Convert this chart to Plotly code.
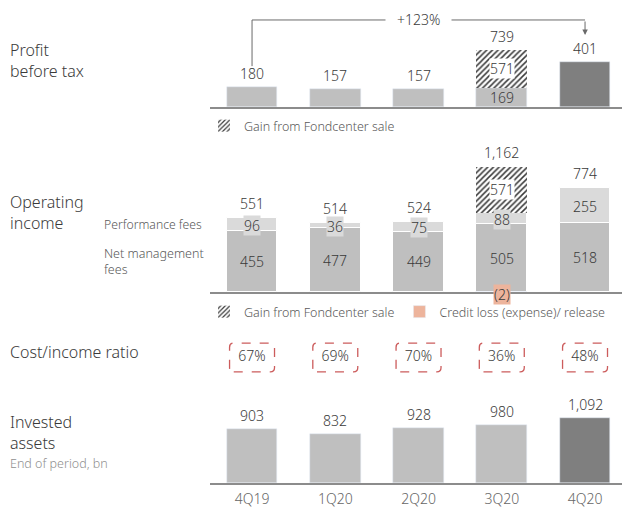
import plotly.graph_objects as go

quarters = ["4Q19", "1Q20", "2Q20", "3Q20", "4Q20"]

# profit before tax, USD m
pbt_underlying = [180, 157, 157, 169, 401]
pbt_gain = [0, 0, 0, 571, 0]
pbt_total = [180, 157, 157, 739, 401]

# operating income, USD m
net_mgmt_fees = [455, 477, 449, 505, 518]
perf_fees = [96, 36, 75, 88, 255]
oi_gain = [0, 0, 0, 571, 0]
credit_loss = [0, 0, 0, -2, 0]
oi_total = [551, 514, 524, 1162, 774]

cost_income = [67, 69, 70, 36, 48]            # %
invested_assets = [903, 832, 928, 980, 1092]  # USD bn

# the Fondcenter gain is drawn on a broken scale
BREAK = 0.6

W, H = 622, 509
FONT = "Noto Sans"
WEIGHT = 300
TXT = "#3a3a3a"
SUB = "#595959"
GREY = "#bfbfbf"
LIGHT = "#dadada"
DARK = "#7f7f7f"
SALMON = "#edb49c"
BAR_W = 0.61
VAL = 14

xs = list(range(len(quarters)))
hi_colors = [GREY] * (len(xs) - 1) + [DARK]


def py(p):
    return 1 - p / H


def px(p):
    return p / W


def panel(bottom, top, per_px):
    return dict(domain=[py(bottom), py(top)], range=[0, (bottom - top) / per_px])


def fnt(size, color=TXT):
    return dict(size=size, color=color, family=FONT, weight=WEIGHT)


hatch = dict(shape="/", fgcolor="#3a3a3a", fgopacity=1, bgcolor="white", size=4, solidity=0.38)

fig = go.Figure()

# ---- profit before tax
pbt_gain_shown = [g * BREAK if g else None for g in pbt_gain]
fig.add_trace(go.Bar(x=xs, y=pbt_underlying, marker_color=hi_colors, width=BAR_W,
                     xaxis="x", yaxis="y", showlegend=False))
fig.add_trace(go.Bar(x=xs, y=pbt_gain_shown, width=BAR_W, name="Gain from Fondcenter sale",
                     marker=dict(color="white", pattern=hatch, line_width=0),
                     xaxis="x", yaxis="y", legend="legend"))

# ---- operating income
oi_gain_shown = [g * BREAK if g else None for g in oi_gain]
fig.add_trace(go.Bar(x=xs, y=net_mgmt_fees, marker=dict(color=GREY, line=dict(color="white", width=1)),
                     width=BAR_W, xaxis="x2", yaxis="y2", showlegend=False))
fig.add_trace(go.Bar(x=xs, y=perf_fees, marker=dict(color=LIGHT, line=dict(color="white", width=1)),
                     width=BAR_W, xaxis="x2", yaxis="y2", showlegend=False))
fig.add_trace(go.Bar(x=xs, y=oi_gain_shown, width=BAR_W, name="Gain from Fondcenter sale",
                     marker=dict(color="white", pattern=hatch, line_width=0),
                     xaxis="x2", yaxis="y2", legend="legend2"))
fig.add_trace(go.Bar(x=xs, y=[c if c else None for c in credit_loss], width=BAR_W,
                     name="Credit loss (expense)/ release", marker_color=SALMON,
                     xaxis="x2", yaxis="y2", legend="legend2"))

# ---- cost / income ratio
fig.add_trace(go.Scatter(x=xs, y=[0.5] * len(xs), mode="text", text=[f"{v}%" for v in cost_income],
                         textfont=fnt(VAL), textposition="middle center",
                         xaxis="x3", yaxis="y3", showlegend=False, hoverinfo="skip"))

# ---- invested assets
fig.add_trace(go.Bar(x=xs, y=invested_assets, marker_color=hi_colors, width=BAR_W,
                     xaxis="x4", yaxis="y4", showlegend=False))

ann = []


def label(x, y, text, xa, ya, anchor="middle", shift=0, bg=None, size=VAL):
    ann.append(dict(x=x, y=y, xref=xa, yref=ya, text=text, showarrow=False, yanchor=anchor,
                    yshift=shift, bgcolor=bg, borderpad=0, font=fnt(size)))


for i in xs:
    # profit
    g = pbt_gain_shown[i] or 0
    label(i, pbt_underlying[i] + g, f"{pbt_total[i]:,}", "x", "y", "bottom", 3)
    if g:
        label(i, pbt_underlying[i] / 2, f"{pbt_underlying[i]:,}", "x", "y")
        label(i, pbt_underlying[i] + g / 2, f"{pbt_gain[i]:,}", "x", "y", bg="white")
    # operating income
    g = oi_gain_shown[i] or 0
    top = net_mgmt_fees[i] + perf_fees[i] + g
    label(i, top, f"{oi_total[i]:,}", "x2", "y2", "bottom", 4)
    label(i, net_mgmt_fees[i] / 2, f"{net_mgmt_fees[i]:,}", "x2", "y2")
    label(i, net_mgmt_fees[i] + perf_fees[i] / 2, f"{perf_fees[i]:,}", "x2", "y2", shift=-1, bg=LIGHT)
    if g:
        label(i, net_mgmt_fees[i] + perf_fees[i] + g / 2, f"{oi_gain[i]:,}", "x2", "y2", bg="white")
    if credit_loss[i]:
        label(i, 0, f"({abs(credit_loss[i])})", "x2", "y2", shift=-2, bg=SALMON)
    # invested assets
    label(i, invested_assets[i], f"{invested_assets[i]:,}", "x4", "y4", "bottom", 3)

# growth bracket 4Q19 -> 4Q20
growth = round((pbt_total[-1] / pbt_total[0] - 1) * 100)
BR_Y, BR_LO, BR_TIP = 777, 365, 643
ann.append(dict(x=xs[-1], y=BR_TIP, ax=xs[-1], ay=BR_Y, axref="x", ayref="y", xref="x", yref="y",
                text="", showarrow=True, arrowhead=2, arrowsize=1.1, arrowwidth=1, arrowcolor="#6a6a6a"))
ann.append(dict(x=2, y=BR_Y, xref="x", yref="y", text=f"\u00a0\u00a0\u00a0+{growth}%\u00a0\u00a0\u00a0",
                showarrow=False, bgcolor="white", borderpad=0, font=fnt(VAL)))


# row titles
def side(x, y, text, size=16, color=TXT):
    ann.append(dict(x=px(x), y=py(y), xref="paper", yref="paper", text=text, showarrow=False,
                    xanchor="left", yanchor="middle", align="left", font=fnt(size, color)))


side(8, 61, "Profit<br>before tax")
side(8, 212, "Operating<br>income")
side(102, 225, "Performance fees", 12.2, SUB)
side(102, 261, "Net management<br>fees", 12.5, SUB)
side(8, 352, "Cost/income ratio")
side(8, 432, "Invested<br>assets")
side(8, 463, "End of period, bn", 12.5, "#8f8f8f")

shapes = [dict(type="path", xref="x", yref="y", path=f"M 0,{BR_LO} L 0,{BR_Y} L {xs[-1]},{BR_Y}",
               line=dict(color="#6a6a6a", width=1))]

# dashed rounded boxes round the ratios
hx, y0, y1, rx, ry = 0.27, 0.18, 0.82, 0.05, 0.09
for i in xs:
    a, b = i - hx, i + hx
    p = (f"M {a + rx},{y0} L {b - rx},{y0} Q {b},{y0} {b},{y0 + ry} L {b},{y1 - ry} "
         f"Q {b},{y1} {b - rx},{y1} L {a + rx},{y1} Q {a},{y1} {a},{y1 - ry} "
         f"L {a},{y0 + ry} Q {a},{y0} {a + rx},{y0} Z")
    shapes.append(dict(type="path", xref="x3", yref="y3", path=p,
                       line=dict(color="#cc5c5c", width=1.3, dash="dash")))

xbase = dict(domain=[px(210), 1], range=[-0.505, 4.444], showgrid=False, zeroline=False,
             ticks="", linecolor="#8c8c8c", linewidth=1.5, fixedrange=True)
ybase = dict(visible=False, fixedrange=True)

fig.update_layout(
    width=W, height=H, margin=dict(l=0, r=0, t=0, b=0),
    paper_bgcolor="white", plot_bgcolor="white", barmode="relative", bargap=0,
    font=dict(family=FONT, color=TXT),
    xaxis=dict(xbase, anchor="y", showline=True, showticklabels=False),
    xaxis2=dict(xbase, anchor="y2", showline=True, showticklabels=False),
    xaxis3=dict(xbase, anchor="y3", showline=False, showticklabels=False),
    xaxis4=dict(xbase, anchor="y4", showline=True, tickvals=xs, ticktext=quarters,
                tickfont=fnt(14, "#666666"), ticklabelstandoff=2),
    yaxis=dict(ybase, anchor="x", **panel(107, 10, 0.112)),
    yaxis2=dict(ybase, anchor="x2", **panel(292, 145, 0.134)),
    yaxis3=dict(ybase, anchor="x3", domain=[py(380), py(335)], range=[0, 1]),
    yaxis4=dict(ybase, anchor="x4", **panel(483, 395, 0.0595)),
    legend=dict(x=px(204), y=py(126), xanchor="left", yanchor="middle", orientation="h",
                bgcolor="rgba(0,0,0,0)", font=fnt(12.5, SUB)),
    legend2=dict(x=px(204), y=py(312), xanchor="left", yanchor="middle", orientation="h",
                 bgcolor="rgba(0,0,0,0)", font=fnt(12.5, SUB)),
    annotations=ann, shapes=shapes, hovermode=False,
)

fig.write_html("out.html", config={"displayModeBar": False},
               post_script="document.body.style.margin='0px';")
